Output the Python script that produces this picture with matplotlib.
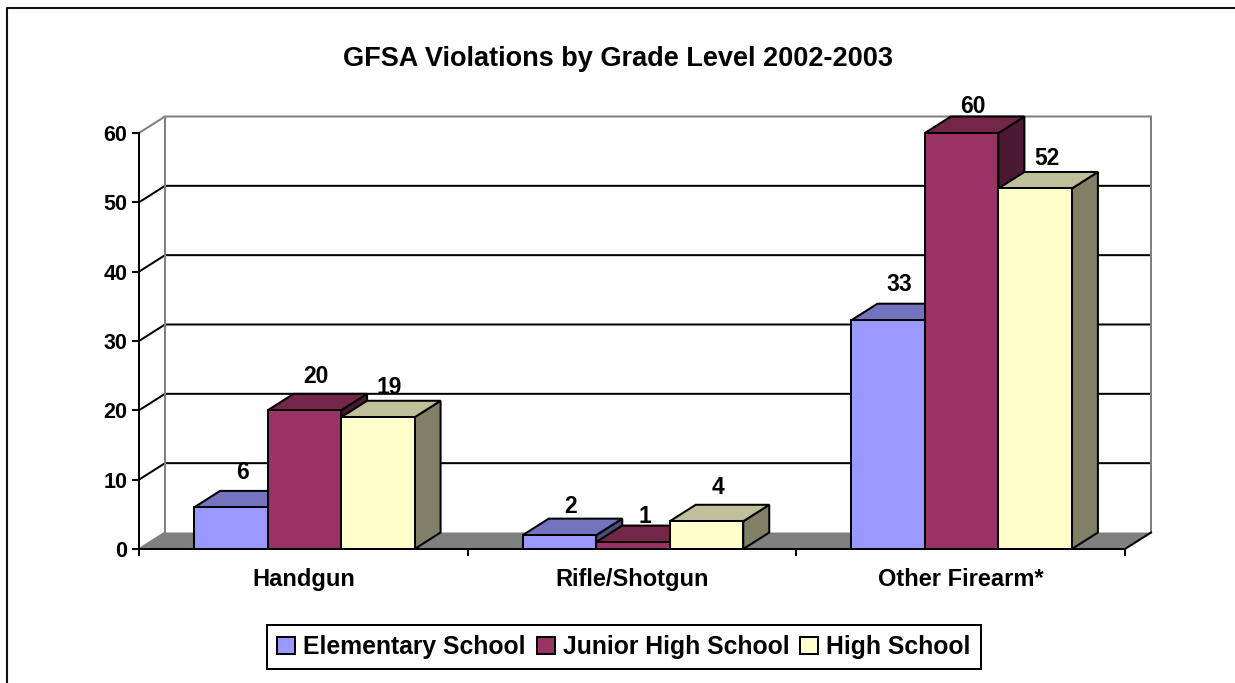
import matplotlib
matplotlib.use("Agg")
import matplotlib.pyplot as plt
from matplotlib.lines import Line2D
from matplotlib.patches import Polygon, Patch

plt.rcParams['font.family'] = ['Liberation Sans', 'DejaVu Sans']
plt.rcParams['font.weight'] = 'bold'

title = "GFSA Violations by Grade Level 2002-2003"
categories = ["Handgun", "Rifle/Shotgun", "Other Firearm*"]
series_names = ["Elementary School", "Junior High School", "High School"]
elementary = [6, 2, 33]
junior_high = [20, 1, 60]
high_school = [19, 4, 52]
series_values = [elementary, junior_high, high_school]
y_ticks = [0, 10, 20, 30, 40, 50, 60]

front_colors = ["#9999FF", "#993366", "#FFFFCC"]
top_colors = ["#7373BF", "#732648", "#BFBF99"]
side_colors = ["#4C4C80", "#4C1933", "#808066"]
label_lift = [[0, -1, -5], [-6, -9, -1], [1, -9, -5]]

W, H = 1235, 683
fig = plt.figure(figsize=(W / 100, H / 100), dpi=100, facecolor="white")

# axes = front plane of the 3-D box, in pixels
L, R, T, B = 139, 1125, 133, 549
ax = fig.add_axes([L / W, 1 - B / H, (R - L) / W, (B - T) / H])
ax.set_xlim(0, 3)
ax.set_ylim(0, 60)
ax.patch.set_alpha(0)
px_x = 3 / (R - L)
px_y = 60 / (B - T)
DX = 26 * px_x
DY = 16.5 * px_y
BAR = 73.5 * px_x
START = (1 - 3 * BAR) / 2 + 1.0 * px_x
LW = 1.45

# floor and back wall
ax.add_patch(Polygon([(0, 0), (DX, DY), (3 + DX, DY), (3, 0)], closed=True,
                     fc="#808080", ec="none", clip_on=False, zorder=1))
for v in y_ticks[1:-1]:
    ax.plot([0, DX, 3 + DX], [v, v + DY, v + DY], color="black", lw=LW,
            clip_on=False, zorder=1.5, solid_joinstyle="miter")
ax.plot([0, DX, 3 + DX, 3 + DX], [60, 60 + DY, 60 + DY, DY], color="#808080", lw=LW,
        clip_on=False, zorder=1.5, solid_joinstyle="miter")
ax.plot([DX, DX], [DY, 60 + DY], color="#808080", lw=LW, clip_on=False, zorder=1.5)
ax.plot([0, DX], [0, DY], color="#808080", lw=LW, clip_on=False, zorder=1.5)
ax.plot([3, 3 + DX], [0, DY], color="black", lw=LW, clip_on=False, zorder=1.6)

# bars, painted left to right
z = 2
for c in range(len(categories)):
    for s, vals in enumerate(series_values):
        v = vals[c]
        x0 = c + START + s * BAR
        x1 = x0 + BAR
        kw = dict(closed=True, ec="black", lw=LW, clip_on=False, zorder=z, joinstyle="miter")
        ax.add_patch(Polygon([(x1, 0), (x1 + DX, DY), (x1 + DX, v + DY), (x1, v)], fc=side_colors[s], **kw))
        ax.add_patch(Polygon([(x0, v), (x0 + DX, v + DY), (x1 + DX, v + DY), (x1, v)], fc=top_colors[s], **kw))
        ax.add_patch(Polygon([(x0, 0), (x1, 0), (x1, v), (x0, v)], fc=front_colors[s], **kw))
        z += 0.01

# data labels
for c in range(len(categories)):
    for s, vals in enumerate(series_values):
        v = vals[c]
        xc = c + START + (s + 0.5) * BAR + DX / 2 - 1.5 * px_x
        ax.annotate(str(v), (xc, v + DY), xytext=(0, (7 + label_lift[c][s]) / 1.389),
                    textcoords="offset points", ha="center", va="bottom",
                    fontsize=16.5, fontweight="bold", color="black", zorder=5, annotation_clip=False)

# axes furniture
for side in ("top", "right"):
    ax.spines[side].set_visible(False)
for side in ("left", "bottom"):
    ax.spines[side].set_linewidth(LW)
    ax.spines[side].set_zorder(4)
ax.set_yticks(y_ticks)
ax.set_xticks([0, 1, 2, 3])
ax.set_xticklabels([])
ax.set_xticks([0.5, 1.5, 2.5], minor=True)
ax.set_xticklabels(categories, minor=True, fontsize=17, fontweight="bold")
ax.tick_params(axis="x", which="minor", length=0, pad=14)
ax.tick_params(axis="x", which="major", length=5, width=LW)
ax.tick_params(axis="y", length=5, width=LW, pad=3.5, labelsize=15.5)

fig.text(618 / W, 1 - 59 / H, title, ha="center", va="center", fontsize=19.5, fontweight="bold")

# outer chart frame (left and top edges are inside the crop)
fig.add_artist(Line2D([6.5 / W, 6.5 / W, 1], [0, 1 - 7.5 / H, 1 - 7.5 / H], color="#111111", lw=1.5))

handles = [Patch(fc=c, ec="black", lw=LW) for c in front_colors]
leg = fig.legend(handles, series_names, ncol=3, loc="center", bbox_to_anchor=(624 / W, 1 - 647 / H),
                 fontsize=17.8, frameon=True, fancybox=False, edgecolor="black", framealpha=1,
                 handlelength=0.72, handleheight=0.65, handletextpad=0.33, columnspacing=0.45,
                 borderpad=0.42, borderaxespad=0)
leg.get_frame().set_linewidth(LW)

fig.savefig("out.png", dpi=100)
